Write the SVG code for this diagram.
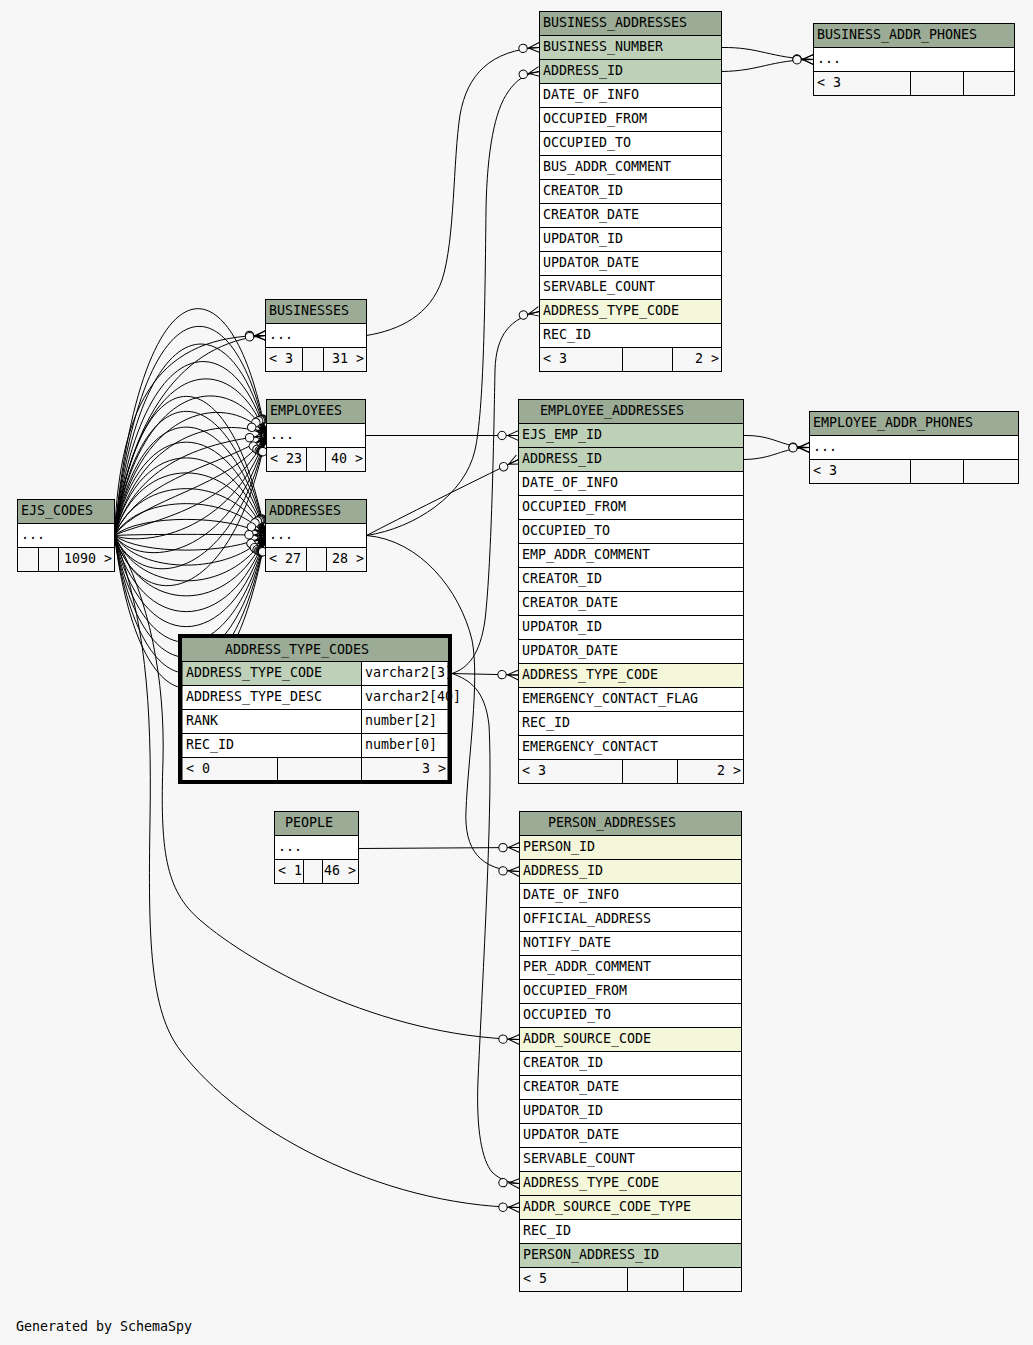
<svg xmlns="http://www.w3.org/2000/svg" width="1033" height="1345" viewBox="0 0 1033 1345">
<style>
text{font-family:"DejaVu Sans Mono","Liberation Mono",monospace;font-size:13.3px;fill:#000}
.e{text-anchor:end}
.h,.pk,.fk,.w,.f{stroke:#000;stroke-width:1}
.h{fill:#9bab96}
.pk{fill:#bed1b8}
.fk{fill:#f4f7da}
.w{fill:#ffffff}
.f{fill:#f7f7f7}
.b{fill:none;stroke:#000;stroke-width:4}
#connectors path{fill:none;stroke:#000;stroke-width:1}
.m{marker-end:url(#cf)}
</style>
<defs>
<marker id="cf" viewBox="-22 -7 24 14" refX="0" refY="0" markerWidth="24" markerHeight="14" markerUnits="userSpaceOnUse" orient="auto" overflow="visible">
<path d="M-11,0L0,-5M-11,0L0,5M-12,0L0,0" fill="none" stroke="#000" stroke-width="1"/>
<circle cx="-16.5" cy="0" r="4.2" fill="#f7f7f7" stroke="#000" stroke-width="1"/>
</marker>
</defs>
<rect x="0" y="0" width="1033" height="1345" fill="#f7f7f7"/>

<g id="connectors">
<!-- EJS_CODES fan to BUSINESSES -->
<path class="m" d="M114.5,535.5 C120,400 160,335 266,335.5"/>
<path class="m" d="M114.5,535.5 C130,420 180,342 266,335.5"/>
<!-- EJS_CODES fan to EMPLOYEES -->
<path class="m" d="M114.5,535.5 C140,258 232,248 266,435.5"/>
<path class="m" d="M114.5,535.5 C140,282 232,272 266,435.5"/>
<path class="m" d="M114.5,535.5 C140,306 232,296 266,435.5"/>
<path class="m" d="M114.5,535.5 C140,330 232,320 266,435.5"/>
<path class="m" d="M114.5,535.5 C140,354 232,344 266,435.5"/>
<path class="m" d="M114.5,535.5 C140,378 232,368 266,435.5"/>
<path class="m" d="M114.5,535.5 C140,402 232,392 266,435.5"/>
<path class="m" d="M114.5,535.5 C140,426 232,416 266,435.5"/>
<path class="m" d="M114.5,535.5 C140,450 232,440 266,435.5"/>
<path class="m" d="M114.5,535.5 C140,474 232,464 266,435.5"/>
<path class="m" d="M114.5,535.5 C140,498 232,488 266,435.5"/>
<path class="m" d="M114.5,535.5 C140,522 232,512 266,435.5"/>
<path class="m" d="M114.5,535.5 C140,546 232,536 266,435.5"/>
<path class="m" d="M114.5,535.5 C140,570 232,560 266,435.5"/>
<path class="m" d="M114.5,535.5 C140,594 232,584 266,435.5"/>
<path class="m" d="M114.5,535.5 C140,618 232,608 266,435.5"/>
<!-- EJS_CODES fan to ADDRESSES -->
<path class="m" d="M114.5,535.5 C140,350 230,350 265.5,535.5"/>
<path class="m" d="M114.5,535.5 C140,370 230,370 265.5,535.5"/>
<path class="m" d="M114.5,535.5 C140,391 230,391 265.5,535.5"/>
<path class="m" d="M114.5,535.5 C140,411 230,411 265.5,535.5"/>
<path class="m" d="M114.5,535.5 C140,432 230,432 265.5,535.5"/>
<path class="m" d="M114.5,535.5 C140,452 230,452 265.5,535.5"/>
<path class="m" d="M114.5,535.5 C140,473 230,473 265.5,535.5"/>
<path class="m" d="M114.5,535.5 C140,493 230,493 265.5,535.5"/>
<path class="m" d="M114.5,535.5 C140,514 230,514 265.5,535.5"/>
<path class="m" d="M114.5,535.5 C140,534 230,534 265.5,535.5"/>
<path class="m" d="M114.5,535.5 C140,555 230,555 265.5,535.5"/>
<path class="m" d="M114.5,535.5 C140,575 230,575 265.5,535.5"/>
<path class="m" d="M114.5,535.5 C140,596 230,596 265.5,535.5"/>
<path class="m" d="M114.5,535.5 C140,616 230,616 265.5,535.5"/>
<path class="m" d="M114.5,535.5 C140,637 230,637 265.5,535.5"/>
<path class="m" d="M114.5,535.5 C140,657 230,657 265.5,535.5"/>
<path class="m" d="M114.5,535.5 C140,678 230,678 265.5,535.5"/>
<path class="m" d="M114.5,535.5 C140,698 230,698 265.5,535.5"/>
<path class="m" d="M114.5,535.5 C140,719 230,719 265.5,535.5"/>
<path class="m" d="M114.5,535.5 C140,739 230,739 265.5,535.5"/>
<!-- EJS_CODES to PERSON_ADDRESSES -->
<path class="m" d="M114.5,535.5 C150,600 165,680 163,760 C160,850 165,890 200,920 C252,965 380,1036 519.5,1039.5"/>
<path class="m" d="M114.5,535.5 C145,620 152,700 150,820 C148,940 150,1010 180,1050 C240,1130 380,1205 519.5,1207.5"/>
<!-- BUSINESSES to BUSINESS_ADDRESSES -->
<path class="m" d="M366.5,335.5 C400,330 430,315 442,280 C455,240 453,160 460,115 C467,75 490,50 539.5,47.5"/>
<!-- ADDRESSES to BUSINESS_ADDRESSES -->
<path class="m" d="M366.5,535.5 C415,528 465,495 475,450 C484,410 485,300 486,210 C487,150 495,110 508,92 C516,80 525,74 539.5,71.5"/>
<!-- ADDRESS_TYPE_CODES to BUSINESS_ADDRESSES -->
<path class="m" d="M452,673.5 C468,668 480,655 485,620 C492,560 494,420 495,370 C496,335 510,318 539.5,311.5"/>
<!-- EMPLOYEES to EMPLOYEE_ADDRESSES -->
<path class="m" d="M365.5,435.5 L518.5,435.5"/>
<!-- ADDRESSES to EMPLOYEE_ADDRESSES -->
<path class="m" d="M366.5,535.5 C400,518 470,483 518.5,459.5"/>
<!-- ADDRESS_TYPE_CODES to EMPLOYEE_ADDRESSES -->
<path class="m" d="M452,673.5 L518.5,675"/>
<!-- PEOPLE to PERSON_ADDRESSES -->
<path class="m" d="M358.5,848.5 L519.5,847.5"/>
<!-- ADDRESSES to PERSON_ADDRESSES -->
<path class="m" d="M366.5,535.5 C420,540 460,590 472,640 C480,680 468,760 466,810 C464,850 480,870 519.5,871.5"/>
<!-- ADDRESS_TYPE_CODES to PERSON_ADDRESSES -->
<path class="m" d="M452,673.5 C470,680 485,690 489,725 C493,800 484,950 478,1080 C476,1130 482,1160 492,1172 C500,1180 510,1183 519.5,1183.5"/>
<!-- BUSINESS_ADDRESSES to BUSINESS_ADDR_PHONES -->
<path class="m" d="M721.5,47.5 C760,47 770,58 813.5,59.5"/>
<path class="m" d="M721.5,71.5 C760,71 770,60 813.5,59.5"/>
<!-- EMPLOYEE_ADDRESSES to EMPLOYEE_ADDR_PHONES -->
<path class="m" d="M743.5,435.5 C775,435 780,447 809.5,447.5"/>
<path class="m" d="M743.5,459.5 C775,459 780,448 809.5,447.5"/>
</g>

<g id="BUSINESS_ADDRESSES">
<rect class="h" x="539.5" y="11.5" width="182" height="24"/>
<rect class="pk" x="539.5" y="35.5" width="182" height="24"/>
<rect class="pk" x="539.5" y="59.5" width="182" height="24"/>
<rect class="w" x="539.5" y="83.5" width="182" height="24"/>
<rect class="w" x="539.5" y="107.5" width="182" height="24"/>
<rect class="w" x="539.5" y="131.5" width="182" height="24"/>
<rect class="w" x="539.5" y="155.5" width="182" height="24"/>
<rect class="w" x="539.5" y="179.5" width="182" height="24"/>
<rect class="w" x="539.5" y="203.5" width="182" height="24"/>
<rect class="w" x="539.5" y="227.5" width="182" height="24"/>
<rect class="w" x="539.5" y="251.5" width="182" height="24"/>
<rect class="w" x="539.5" y="275.5" width="182" height="24"/>
<rect class="fk" x="539.5" y="299.5" width="182" height="24"/>
<rect class="w" x="539.5" y="323.5" width="182" height="24"/>
<rect class="f" x="539.5" y="347.5" width="83" height="24"/>
<rect class="f" x="622.5" y="347.5" width="50" height="24"/>
<rect class="f" x="672.5" y="347.5" width="49" height="24"/>
<text x="543" y="27">BUSINESS_ADDRESSES</text>
<text x="543" y="51">BUSINESS_NUMBER</text>
<text x="543" y="75">ADDRESS_ID</text>
<text x="543" y="99">DATE_OF_INFO</text>
<text x="543" y="123">OCCUPIED_FROM</text>
<text x="543" y="147">OCCUPIED_TO</text>
<text x="543" y="171">BUS_ADDR_COMMENT</text>
<text x="543" y="195">CREATOR_ID</text>
<text x="543" y="219">CREATOR_DATE</text>
<text x="543" y="243">UPDATOR_ID</text>
<text x="543" y="267">UPDATOR_DATE</text>
<text x="543" y="291">SERVABLE_COUNT</text>
<text x="543" y="315">ADDRESS_TYPE_CODE</text>
<text x="543" y="339">REC_ID</text>
<text x="543" y="363">&lt; 3</text>
<text class="e" x="719" y="363">2 &gt;</text>
</g>

<g id="BUSINESS_ADDR_PHONES">
<rect class="h" x="813.5" y="23.5" width="201" height="24"/>
<rect class="w" x="813.5" y="47.5" width="201" height="24"/>
<rect class="f" x="813.5" y="71.5" width="97" height="24"/>
<rect class="f" x="910.5" y="71.5" width="53" height="24"/>
<rect class="f" x="963.5" y="71.5" width="51" height="24"/>
<text x="817" y="39">BUSINESS_ADDR_PHONES</text>
<text x="817" y="63">...</text>
<text x="817" y="87">&lt; 3</text>
</g>

<g id="BUSINESSES">
<rect class="h" x="265.5" y="299.5" width="101" height="24"/>
<rect class="w" x="265.5" y="323.5" width="101" height="24"/>
<rect class="f" x="265.5" y="347.5" width="37" height="24"/>
<rect class="f" x="302.5" y="347.5" width="21" height="24"/>
<rect class="f" x="323.5" y="347.5" width="43" height="24"/>
<text x="269" y="315">BUSINESSES</text>
<text x="269" y="339">...</text>
<text x="269" y="363">&lt; 3</text>
<text class="e" x="364" y="363">31 &gt;</text>
</g>

<g id="EMPLOYEES">
<rect class="h" x="266.5" y="399.5" width="99" height="24"/>
<rect class="w" x="266.5" y="423.5" width="99" height="24"/>
<rect class="f" x="266.5" y="447.5" width="40" height="24"/>
<rect class="f" x="306.5" y="447.5" width="19" height="24"/>
<rect class="f" x="325.5" y="447.5" width="40" height="24"/>
<text x="270" y="415">EMPLOYEES</text>
<text x="270" y="439">...</text>
<text x="270" y="463">&lt; 23</text>
<text class="e" x="363" y="463">40 &gt;</text>
</g>

<g id="ADDRESSES">
<rect class="h" x="265.5" y="499.5" width="101" height="24"/>
<rect class="w" x="265.5" y="523.5" width="101" height="24"/>
<rect class="f" x="265.5" y="547.5" width="41" height="24"/>
<rect class="f" x="306.5" y="547.5" width="20" height="24"/>
<rect class="f" x="326.5" y="547.5" width="40" height="24"/>
<text x="269" y="515">ADDRESSES</text>
<text x="269" y="539">...</text>
<text x="269" y="563">&lt; 27</text>
<text class="e" x="364" y="563">28 &gt;</text>
</g>

<g id="EJS_CODES">
<rect class="h" x="17.5" y="499.5" width="97" height="24"/>
<rect class="w" x="17.5" y="523.5" width="97" height="24"/>
<rect class="f" x="17.5" y="547.5" width="21" height="24"/>
<rect class="f" x="38.5" y="547.5" width="20" height="24"/>
<rect class="f" x="58.5" y="547.5" width="56" height="24"/>
<text x="21" y="515">EJS_CODES</text>
<text x="21" y="539">...</text>
<text class="e" x="112" y="563">1090 &gt;</text>
</g>

<g id="ADDRESS_TYPE_CODES">
<rect x="182" y="638" width="266" height="23.5" fill="#9bab96"/>
<rect class="pk" x="182" y="661.5" width="179.5" height="24"/>
<rect class="w" x="361.5" y="661.5" width="86.5" height="24"/>
<rect class="w" x="182" y="685.5" width="179.5" height="24"/>
<rect class="w" x="361.5" y="685.5" width="86.5" height="24"/>
<rect class="w" x="182" y="709.5" width="179.5" height="24"/>
<rect class="w" x="361.5" y="709.5" width="86.5" height="24"/>
<rect class="w" x="182" y="733.5" width="179.5" height="24"/>
<rect class="w" x="361.5" y="733.5" width="86.5" height="24"/>
<rect class="f" x="182" y="757.5" width="95.5" height="24"/>
<rect class="f" x="277.5" y="757.5" width="84" height="24"/>
<rect class="f" x="361.5" y="757.5" width="86.5" height="24"/>
<text x="225" y="654">ADDRESS_TYPE_CODES</text>
<text x="186" y="677">ADDRESS_TYPE_CODE</text>
<text x="365" y="677">varchar2[3]</text>
<text x="186" y="701">ADDRESS_TYPE_DESC</text>
<text x="365" y="701">varchar2[40]</text>
<text x="186" y="725">RANK</text>
<text x="365" y="725">number[2]</text>
<text x="186" y="749">REC_ID</text>
<text x="365" y="749">number[0]</text>
<text x="186" y="773">&lt; 0</text>
<text class="e" x="446" y="773">3 &gt;</text>
<rect class="b" x="180" y="636" width="270" height="146"/>
</g>

<g id="EMPLOYEE_ADDRESSES">
<rect class="h" x="518.5" y="399.5" width="225" height="24"/>
<rect class="pk" x="518.5" y="423.5" width="225" height="24"/>
<rect class="pk" x="518.5" y="447.5" width="225" height="24"/>
<rect class="w" x="518.5" y="471.5" width="225" height="24"/>
<rect class="w" x="518.5" y="495.5" width="225" height="24"/>
<rect class="w" x="518.5" y="519.5" width="225" height="24"/>
<rect class="w" x="518.5" y="543.5" width="225" height="24"/>
<rect class="w" x="518.5" y="567.5" width="225" height="24"/>
<rect class="w" x="518.5" y="591.5" width="225" height="24"/>
<rect class="w" x="518.5" y="615.5" width="225" height="24"/>
<rect class="w" x="518.5" y="639.5" width="225" height="24"/>
<rect class="fk" x="518.5" y="663.5" width="225" height="24"/>
<rect class="w" x="518.5" y="687.5" width="225" height="24"/>
<rect class="w" x="518.5" y="711.5" width="225" height="24"/>
<rect class="w" x="518.5" y="735.5" width="225" height="24"/>
<rect class="f" x="518.5" y="759.5" width="104" height="24"/>
<rect class="f" x="622.5" y="759.5" width="55" height="24"/>
<rect class="f" x="677.5" y="759.5" width="66" height="24"/>
<text x="540" y="415">EMPLOYEE_ADDRESSES</text>
<text x="522" y="439">EJS_EMP_ID</text>
<text x="522" y="463">ADDRESS_ID</text>
<text x="522" y="487">DATE_OF_INFO</text>
<text x="522" y="511">OCCUPIED_FROM</text>
<text x="522" y="535">OCCUPIED_TO</text>
<text x="522" y="559">EMP_ADDR_COMMENT</text>
<text x="522" y="583">CREATOR_ID</text>
<text x="522" y="607">CREATOR_DATE</text>
<text x="522" y="631">UPDATOR_ID</text>
<text x="522" y="655">UPDATOR_DATE</text>
<text x="522" y="679">ADDRESS_TYPE_CODE</text>
<text x="522" y="703">EMERGENCY_CONTACT_FLAG</text>
<text x="522" y="727">REC_ID</text>
<text x="522" y="751">EMERGENCY_CONTACT</text>
<text x="522" y="775">&lt; 3</text>
<text class="e" x="741" y="775">2 &gt;</text>
</g>

<g id="EMPLOYEE_ADDR_PHONES">
<rect class="h" x="809.5" y="411.5" width="209" height="24"/>
<rect class="w" x="809.5" y="435.5" width="209" height="24"/>
<rect class="f" x="809.5" y="459.5" width="101" height="24"/>
<rect class="f" x="910.5" y="459.5" width="53" height="24"/>
<rect class="f" x="963.5" y="459.5" width="55" height="24"/>
<text x="813" y="427">EMPLOYEE_ADDR_PHONES</text>
<text x="813" y="451">...</text>
<text x="813" y="475">&lt; 3</text>
</g>

<g id="PEOPLE">
<rect class="h" x="274.5" y="811.5" width="84" height="24"/>
<rect class="w" x="274.5" y="835.5" width="84" height="24"/>
<rect class="f" x="274.5" y="859.5" width="29" height="24"/>
<rect class="f" x="303.5" y="859.5" width="19" height="24"/>
<rect class="f" x="322.5" y="859.5" width="36" height="24"/>
<text x="285" y="827">PEOPLE</text>
<text x="278" y="851">...</text>
<text x="278" y="875">&lt; 1</text>
<text class="e" x="356" y="875">46 &gt;</text>
</g>

<g id="PERSON_ADDRESSES">
<rect class="h" x="519.5" y="811.5" width="222" height="24"/>
<rect class="fk" x="519.5" y="835.5" width="222" height="24"/>
<rect class="fk" x="519.5" y="859.5" width="222" height="24"/>
<rect class="w" x="519.5" y="883.5" width="222" height="24"/>
<rect class="w" x="519.5" y="907.5" width="222" height="24"/>
<rect class="w" x="519.5" y="931.5" width="222" height="24"/>
<rect class="w" x="519.5" y="955.5" width="222" height="24"/>
<rect class="w" x="519.5" y="979.5" width="222" height="24"/>
<rect class="w" x="519.5" y="1003.5" width="222" height="24"/>
<rect class="fk" x="519.5" y="1027.5" width="222" height="24"/>
<rect class="w" x="519.5" y="1051.5" width="222" height="24"/>
<rect class="w" x="519.5" y="1075.5" width="222" height="24"/>
<rect class="w" x="519.5" y="1099.5" width="222" height="24"/>
<rect class="w" x="519.5" y="1123.5" width="222" height="24"/>
<rect class="w" x="519.5" y="1147.5" width="222" height="24"/>
<rect class="fk" x="519.5" y="1171.5" width="222" height="24"/>
<rect class="fk" x="519.5" y="1195.5" width="222" height="24"/>
<rect class="w" x="519.5" y="1219.5" width="222" height="24"/>
<rect class="pk" x="519.5" y="1243.5" width="222" height="24"/>
<rect class="f" x="519.5" y="1267.5" width="108" height="24"/>
<rect class="f" x="627.5" y="1267.5" width="56" height="24"/>
<rect class="f" x="683.5" y="1267.5" width="58" height="24"/>
<text x="548" y="827">PERSON_ADDRESSES</text>
<text x="523" y="851">PERSON_ID</text>
<text x="523" y="875">ADDRESS_ID</text>
<text x="523" y="899">DATE_OF_INFO</text>
<text x="523" y="923">OFFICIAL_ADDRESS</text>
<text x="523" y="947">NOTIFY_DATE</text>
<text x="523" y="971">PER_ADDR_COMMENT</text>
<text x="523" y="995">OCCUPIED_FROM</text>
<text x="523" y="1019">OCCUPIED_TO</text>
<text x="523" y="1043">ADDR_SOURCE_CODE</text>
<text x="523" y="1067">CREATOR_ID</text>
<text x="523" y="1091">CREATOR_DATE</text>
<text x="523" y="1115">UPDATOR_ID</text>
<text x="523" y="1139">UPDATOR_DATE</text>
<text x="523" y="1163">SERVABLE_COUNT</text>
<text x="523" y="1187">ADDRESS_TYPE_CODE</text>
<text x="523" y="1211">ADDR_SOURCE_CODE_TYPE</text>
<text x="523" y="1235">REC_ID</text>
<text x="523" y="1259">PERSON_ADDRESS_ID</text>
<text x="523" y="1283">&lt; 5</text>
</g>

<text x="16" y="1331">Generated by SchemaSpy</text>
</svg>
